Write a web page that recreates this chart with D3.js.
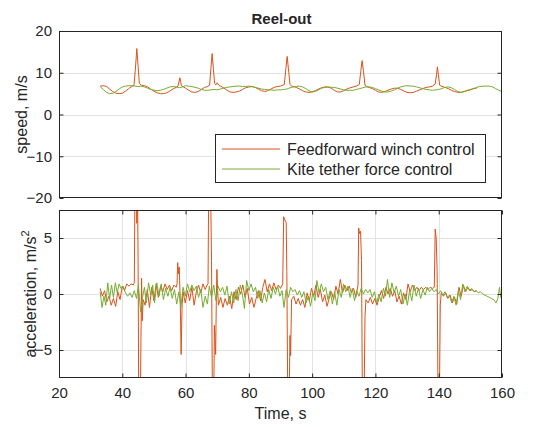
<!DOCTYPE html>
<html>
<head>
<meta charset="utf-8">
<script src="https://cdn.jsdelivr.net/npm/d3@7"></script>
<style>
  html, body { margin: 0; padding: 0; background: #fff; }
  svg { display: block; font-family: "Liberation Sans", Arial, Helvetica, sans-serif; }
</style>
</head>
<body>
<svg id="chart" width="538" height="427"></svg>
<script>
// ---- data: reel-out phase, two winch strategies ----
const seriesNames = ["Feedforward winch control", "Kite tether force control"];
const seriesColors = ["#D95319", "#77AC30"];

const timeTicks = [20, 40, 60, 80, 100, 120, 140, 160];
const speedTicks = [-20, -10, 0, 10, 20];
const accelTicks = [-5, 0, 5];

// speed [t (s), v (m/s)]
const speedFeedforward = [
  [33,6.8],[34,6.9],[35,6.7],[36,6.1],[37,5.5],[38,5.1],[39,5.0],[40,5.1],[41,5.6],[42,6.2],[43,6.7],[43.7,7.0],
  [44.1,10.5],[44.6,15.8],[45.0,11.5],[45.4,7.4],[46,7.0],[47,6.9],[48,6.6],[49,6.1],[50,5.6],[51,5.2],[52,5.0],
  [53,5.0],[54,5.2],[55,5.6],[56,6.1],[57,6.5],[57.6,6.8],[58.2,8.8],[58.7,6.9],[59.3,6.6],[60,6.3],[61,5.8],
  [62,5.4],[63,5.3],[64,5.5],[65,6.0],[66,6.5],[67,6.7],[67.6,7.0],[68.0,11.0],[68.4,14.6],[68.8,10.8],[69.2,7.4],
  [69.6,7.1],[70,7.6],[70.5,7.0],[71,6.8],[72,6.4],[73,5.9],[74,5.4],[75,5.3],[76,5.4],[77,5.6],[78,6.0],[79,6.4],
  [80,6.6],[81,6.7],[82,6.5],[83,6.1],[84,5.7],[85,5.5],[86,5.7],[87,6.1],[88,6.5],[89,6.7],[90,6.8],[91.2,7.2],
  [91.7,11.0],[92.1,13.9],[92.5,11.0],[93,7.2],[93.5,6.8],[94,6.7],[95,6.5],[96,6.1],[97,5.7],[98,5.4],[99,5.3],
  [100,5.4],[101,5.7],[102,6.1],[103,6.4],[104,6.6],[105,6.6],[106,6.3],[107,5.8],[108,5.4],[109,5.4],[110,5.7],
  [111,6.1],[112,6.4],[113,6.6],[114,6.8],[114.9,7.2],[115.4,10.5],[115.8,12.9],[116.2,10.5],[116.7,7.0],
  [117.3,6.7],[118,6.5],[119,6.2],[120,5.8],[121,5.4],[122,5.3],[123,5.5],[124,5.8],[125,6.1],[126,6.3],
  [127,6.3],[128,6.0],[129,5.6],[130,5.3],[131,5.2],[132,5.3],[133,5.6],[134,5.9],[135,6.2],[136,6.5],[137,6.6],
  [138,6.8],[138.9,7.3],[139.3,9.5],[139.6,11.4],[139.9,9.5],[140.3,7.0],[141,6.7],[142,6.5],[143,6.2],[144,5.8],
  [145,5.5],[146,5.3],[147,5.3],[148,5.5],[149,5.7],[150,5.9],[151,6.2],[152,6.3]
];
const speedKite = [
  [33,6.7],[34,6.0],[35,5.3],[36,5.0],[37,5.1],[38,5.5],[39,6.1],[40,6.6],[41,6.8],[42,6.9],[43,6.9],[44,6.8],
  [45,6.7],[46,6.8],[47,6.6],[48,6.3],[49,6.0],[50,5.8],[51,5.7],[52,5.8],[53,6.0],[54,6.3],[55,6.6],[56,6.7],
  [57,6.6],[58,6.4],[59,6.6],[60,6.9],[61,6.8],[62,6.7],[63,6.5],[64,6.3],[65,6.0],[66,5.8],[67,5.8],[68,5.9],
  [69,6.0],[70,5.9],[71,6.1],[72,6.3],[73,6.5],[74,6.6],[75,6.7],[76,6.8],[77,6.8],[78,6.7],[79,6.7],[80,6.8],
  [81,6.7],[82,6.5],[83,6.3],[84,6.1],[85,6.0],[86,5.9],[87,5.9],[88,5.8],[89,5.9],[90,5.9],[91,6.0],[92,6.1],
  [93,6.4],[94,6.6],[95,6.7],[96,6.8],[97,6.6],[98,6.2],[99,5.7],[100,5.4],[101,5.5],[102,5.9],[103,6.3],
  [104,6.5],[105,6.6],[106,6.5],[107,6.5],[108,6.3],[109,6.1],[110,5.9],[111,5.8],[112,5.8],[113,5.8],[114,6.0],
  [115,6.2],[116,6.4],[117,6.6],[118,6.6],[119,6.5],[120,6.2],[121,5.9],[122,5.6],[123,5.4],[124,5.4],[125,5.6],
  [126,5.9],[127,6.3],[128,6.6],[129,6.8],[130,6.9],[131,6.8],[132,6.8],[133,6.6],[134,6.4],[135,6.2],[136,6.0],
  [137,5.9],[138,5.8],[139,5.9],[140,6.0],[141,6.2],[142,6.5],[143,6.6],[144,6.4],[145,6.0],[146,5.5],[147,5.3],
  [148,5.5],[149,5.8],[150,6.0],[151,6.2],[152,6.5],[153,6.7],[154,6.8],[155,6.8],[156,6.8],[157,6.6],[158,6.2],
  [159,5.8],[160,5.5]
];

// acceleration [t (s), a (m/s^2)]
const accelFeedforward = [
  [33.0,0.5],[33.7,-0.2],[34.4,0.3],[35.1,-0.7],[35.8,-0.2],[36.5,-1.0],[37.2,-0.4],[37.9,-1.1],[38.6,0.2],
  [39.3,-0.5],[40.0,0.7],[40.7,0.3],[41.4,0.9],[42.1,0.7],[42.8,0.9],[43.5,0.8],[43.8,1.0],
  [44.0,9.5],[44.4,9.5],[44.6,6.3],[44.8,9.5],[45.0,3.0],[45.2,-10],[45.7,-10],[45.9,-4.0],[46.1,1.4],
  [46.3,-2.4],[46.6,-0.5],
  [47.2,-1.0],[47.9,0.4],[48.6,-1.2],[49.3,0.6],[50.0,-0.6],[50.7,0.9],[51.4,-0.3],[52.1,0.7],[52.8,0.2],
  [53.5,0.9],[54.2,0.4],[54.9,0.8],[55.6,0.3],[56.3,0.8],[57.0,0.6],[57.3,0.9],
  [57.5,2.8],[57.8,1.8],[58.0,2.4],[58.3,-0.5],[58.6,-5.4],[58.9,-1.0],[59.2,0.2],
  [59.9,-0.8],[60.6,0.3],[61.3,-0.6],[62.0,0.6],[62.7,-1.0],[63.4,0.2],[64.1,0.8],[64.8,0.1],[65.5,0.9],
  [66.2,0.4],[66.8,0.8],[67.1,0.9],
  [67.3,9.5],[67.9,9.5],[68.2,3.0],[68.5,-10],[68.9,-10],[69.1,-2.8],[69.3,-4.0],[69.5,-5.4],[69.7,-1.0],
  [69.9,2.2],[70.1,0.5],[70.4,-1.0],
  [71.1,-0.3],[71.8,-1.2],[72.5,-0.4],[73.2,-1.0],[73.9,-0.2],[74.6,-1.3],[75.3,0.2],[76.0,-0.5],[76.7,0.6],
  [77.4,0.0],[78.1,0.8],[78.8,-0.3],[79.5,0.5],[80.2,-0.9],[80.9,-0.3],[81.6,-1.2],[82.3,-0.4],[83.0,0.3],
  [83.7,-0.6],[84.4,0.6],[85.1,1.3],[85.8,0.2],[86.5,0.9],[87.2,0.3],[87.9,1.0],[88.6,0.4],[89.3,0.8],
  [90.0,0.5],[90.7,0.9],
  [91.0,6.9],[91.4,6.6],[91.8,6.4],[92.0,2.0],[92.3,-10],[92.7,-10],[93.0,-3.7],[93.2,-5.5],[93.5,-0.5],
  [94.2,-0.2],[94.9,-0.9],[95.6,-0.4],[96.3,-1.0],[97.0,-0.5],[97.7,-1.2],[98.4,0.1],[99.1,-0.6],[99.8,0.5],
  [100.5,-0.2],[101.2,0.8],[101.9,-0.3],[102.6,0.4],[103.3,-0.7],[104.0,-0.1],[104.7,-1.1],[105.4,-0.4],
  [106.1,0.2],[106.8,-0.5],[107.5,0.7],[108.2,0.0],[108.9,1.3],[109.6,0.1],[110.3,0.8],[111.0,0.3],[111.7,0.7],
  [112.4,0.1],[113.1,0.5],[113.8,-0.3],[114.5,0.8],
  [114.7,5.9],[115.0,5.4],[115.3,5.6],[115.6,3.0],[115.9,-10],[116.4,-10],[116.7,-2.0],[117.0,-0.5],
  [117.7,-0.8],[118.4,-0.3],[119.1,-0.9],[119.8,-0.4],[120.5,-1.0],[121.2,-0.3],[121.9,0.3],[122.6,-0.4],
  [123.3,0.6],[124.0,0.0],[124.7,0.5],[125.4,-0.2],[126.1,0.3],[126.8,-0.7],[127.5,-0.2],[128.2,-0.9],
  [128.9,0.1],[129.6,-0.5],[130.3,0.9],[131.0,0.2],[131.7,0.8],[132.4,0.3],[133.1,0.6],[133.8,0.3],[134.5,0.6],
  [135.2,0.4],[135.9,0.6],[136.6,0.4],[137.3,0.6],[138.0,0.5],[138.6,0.6],
  [138.9,5.8],[139.2,5.0],[139.5,2.0],[139.8,-10],[140.2,-10],[140.5,-1.0],[140.8,0.1],
  [141.5,-0.2],[142.2,0.1],[142.9,-0.4],[143.6,-0.1],[144.3,-0.8],[145.0,-0.3],[145.7,-0.9],[146.4,0.6],
  [147.1,-0.2],[147.8,0.8],[148.5,0.2],[149.2,0.6],[149.9,0.3],[150.6,0.4],[151.3,0.2],[152.0,0.3]
];
const accelKite = [
  [33.0,0.2],[33.6,-1.2],[34.2,-0.2],[34.8,-1.0],[35.4,1.0],[36.0,-0.4],[36.6,0.8],[37.2,-0.3],[37.8,1.0],
  [38.4,0.1],[39.0,0.9],[39.6,0.5],[40.3,0.7],[41.0,0.1],[41.7,-0.2],[42.4,0.1],[43.1,-0.3],[43.8,0.3],
  [44.5,-0.4],[45.1,0.8],[45.8,-1.6],[46.4,-0.3],[47.0,0.6],[47.6,-0.8],[48.3,1.0],[49.0,-0.1],[49.6,0.8],
  [50.2,-0.8],[50.9,1.0],[51.6,-0.2],[52.3,0.9],[53.0,-0.5],[53.7,0.5],[54.4,-0.2],[55.1,0.6],[55.8,-0.4],
  [56.5,0.4],[57.2,-0.9],[57.9,0.2],[58.5,-1.2],[59.2,0.6],[59.9,-0.2],[60.6,0.9],[61.3,0.2],[62.0,0.8],
  [62.7,0.3],[63.4,0.7],[64.1,-0.3],[64.8,0.4],[65.5,-1.2],[66.2,-0.2],[66.9,-0.9],[67.5,0.7],[68.2,-0.3],
  [68.9,0.8],[69.6,-0.6],[70.3,0.7],[71.0,0.2],[71.7,0.6],[72.4,-0.1],[73.1,0.7],[73.8,-0.9],[74.5,0.2],
  [75.2,-0.8],[75.9,0.4],[76.6,-0.6],[77.3,0.8],[78.0,-0.1],[78.6,-1.3],[79.3,1.2],[80.0,0.3],[80.7,0.9],
  [81.4,0.2],[82.1,0.6],[82.8,-0.4],[83.5,0.3],[84.2,-0.8],[84.9,0.1],[85.6,-0.7],[86.3,0.4],[87.0,-0.4],
  [87.7,0.6],[88.4,0.0],[89.1,0.7],[89.8,-0.2],[90.5,0.3],[91.1,-1.2],[91.8,0.4],[92.5,-0.3],[93.2,0.6],
  [93.9,0.2],[94.6,0.4],[95.3,-0.1],[96.0,0.3],[96.7,-0.3],[97.4,0.2],[98.1,-0.8],[98.8,-0.2],[99.5,-1.1],
  [100.2,0.1],[100.9,-0.6],[101.5,1.2],[102.2,0.1],[102.9,0.9],[103.6,0.2],[104.3,0.6],[105.0,-0.5],[105.7,0.3],
  [106.4,-0.9],[107.1,0.2],[107.8,-1.0],[108.5,0.4],[109.2,-0.3],[109.9,0.9],[110.6,0.2],[111.3,0.7],
  [112.0,-0.3],[112.7,0.5],[113.4,-0.6],[114.1,0.3],[114.8,-0.2],[115.5,0.5],[116.2,0.0],[116.9,0.4],
  [117.6,0.1],[118.3,0.4],[119.0,-0.3],[119.7,0.2],[120.4,-0.8],[121.1,0.0],[121.8,-0.7],[122.5,0.5],
  [123.2,-0.2],[123.8,1.3],[124.5,-0.3],[125.2,1.0],[125.9,0.1],[126.6,0.7],[127.3,-0.2],[128.0,0.4],
  [128.7,-0.9],[129.4,0.0],[130.1,-1.0],[130.8,0.3],[131.5,-0.6],[132.2,0.8],[132.9,-0.2],[133.6,0.5],
  [134.3,-0.4],[135.0,0.4],[135.7,-0.1],[136.4,0.6],[137.1,0.2],[137.8,0.5],[138.5,0.2],[139.2,0.4],
  [139.9,0.0],[140.6,0.3],[141.3,-0.1],[142.0,0.2],[142.7,-0.3],[143.4,-0.1],[144.1,-0.8],[144.8,-0.2],
  [145.5,-1.0],[146.2,0.3],[146.9,-0.5],[147.6,0.9],[148.3,0.2],[149.0,0.7],[149.7,0.3],[150.4,0.5],
  [151.1,0.2],[151.8,0.3],[152.5,0.1],[153.2,0.2],[153.9,0.0],[154.6,-0.1],[155.3,-0.2],[156.0,-0.3],
  [156.7,-0.4],[157.4,-0.5],[158.1,-0.8],[158.7,-0.4],[159.2,0.6],[159.6,-0.3],[160.0,-0.5]
];

// ---- layout ----
const svg = d3.select("#chart");
const left = 59, right = 502;
const topPanel = { y0: 31, y1: 198 };
const botPanel = { y0: 210, y1: 378 };
const ink = "#262626";
const gridColor = "#e3e3e3";
const tickLen = 4;
const tickFont = "15px";
const labelFont = "16px";

const x = d3.scaleLinear().domain([20, 160]).range([left, right]);
const ySpeed = d3.scaleLinear().domain([-20, 20]).range([topPanel.y1, topPanel.y0]);
const yAccel = d3.scaleLinear().domain([-7.5, 7.5]).range([botPanel.y1, botPanel.y0]);

const defs = svg.append("defs");
defs.append("clipPath").attr("id", "clipTop")
  .append("rect").attr("x", left).attr("y", topPanel.y0).attr("width", right - left).attr("height", topPanel.y1 - topPanel.y0);
defs.append("clipPath").attr("id", "clipBot")
  .append("rect").attr("x", left).attr("y", botPanel.y0).attr("width", right - left).attr("height", botPanel.y1 - botPanel.y0);

function grid(y, ticks, panelBox, withX) {
  const g = svg.append("g");
  g.append("g").selectAll("line").data(ticks.filter(v => y(v) > panelBox.y0 + 1 && y(v) < panelBox.y1 - 1))
    .join("line")
    .attr("x1", left).attr("x2", right)
    .attr("y1", d => Math.round(y(d)) + 0.5).attr("y2", d => Math.round(y(d)) + 0.5)
    .attr("stroke", gridColor).attr("stroke-width", 1);
  if (withX) {
    g.append("g").selectAll("line").data(timeTicks.filter(v => x(v) > left + 1 && x(v) < right - 1))
      .join("line")
      .attr("x1", d => Math.round(x(d)) + 0.5).attr("x2", d => Math.round(x(d)) + 0.5)
      .attr("y1", panelBox.y0).attr("y2", panelBox.y1)
      .attr("stroke", gridColor).attr("stroke-width", 1);
  }
}

function frame(y, ticks, panelBox, withX) {
  const g = svg.append("g");
  // inward tick marks on every side of the box
  g.append("g").attr("transform", `translate(${left + 0.5},0)`)
    .call(d3.axisRight(y).tickValues(ticks).tickSize(tickLen).tickFormat(""));
  g.append("g").attr("transform", `translate(${right - 0.5},0)`)
    .call(d3.axisLeft(y).tickValues(ticks).tickSize(tickLen).tickFormat(""));
  if (withX) {
    g.append("g").attr("transform", `translate(0,${panelBox.y1 - 0.5})`)
      .call(d3.axisTop(x).tickValues(timeTicks).tickSize(tickLen).tickFormat(""));
    g.append("g").attr("transform", `translate(0,${panelBox.y0 + 0.5})`)
      .call(d3.axisBottom(x).tickValues(timeTicks).tickSize(tickLen).tickFormat(""));
  }
  g.selectAll(".domain").remove();
  g.selectAll(".tick line").attr("stroke", ink).attr("stroke-width", 1);
  g.append("rect")
    .attr("x", left + 0.5).attr("y", panelBox.y0 + 0.5)
    .attr("width", right - left - 1).attr("height", panelBox.y1 - panelBox.y0 - 1)
    .attr("fill", "none").attr("stroke", ink).attr("stroke-width", 1);
  // y tick labels
  const lg = g.append("g").attr("transform", `translate(${left},0)`)
    .call(d3.axisLeft(y).tickValues(ticks).tickSize(0).tickPadding(7).tickFormat(d3.format("d")));
  lg.select(".domain").remove();
  lg.selectAll("text").attr("fill", ink).style("font-size", tickFont)
    .style("font-family", "Liberation Sans, Arial, sans-serif");
}

// ---- speed panel ----
grid(ySpeed, speedTicks, topPanel, false);
const lineSpeed = d3.line().x(d => x(d[0])).y(d => ySpeed(d[1]));
const sTop = svg.append("g").attr("clip-path", "url(#clipTop)");
[speedFeedforward, speedKite].forEach((s, i) => {
  sTop.append("path").datum(s).attr("d", lineSpeed)
    .attr("fill", "none").attr("stroke", seriesColors[i]).attr("stroke-width", 1)
    .attr("stroke-linejoin", "round");
});
frame(ySpeed, speedTicks, topPanel, false);

// ---- acceleration panel ----
grid(yAccel, accelTicks, botPanel, true);
const lineAccel = d3.line().x(d => x(d[0])).y(d => yAccel(d[1]));
const sBot = svg.append("g").attr("clip-path", "url(#clipBot)");
[accelFeedforward, accelKite].forEach((s, i) => {
  sBot.append("path").datum(s).attr("d", lineAccel)
    .attr("fill", "none").attr("stroke", seriesColors[i]).attr("stroke-width", 1)
    .attr("stroke-linejoin", "round");
});
frame(yAccel, accelTicks, botPanel, true);

// x tick labels under the lower panel
const xLab = svg.append("g").attr("transform", `translate(0,${botPanel.y1})`)
  .call(d3.axisBottom(x).tickValues(timeTicks).tickSize(0).tickPadding(9).tickFormat(d3.format("d")));
xLab.select(".domain").remove();
xLab.selectAll("text").attr("fill", ink).style("font-size", tickFont)
  .style("font-family", "Liberation Sans, Arial, sans-serif");

// ---- titles and labels ----
svg.append("text").attr("x", (left + right) / 2 + 1).attr("y", 24)
  .attr("text-anchor", "middle").attr("fill", ink)
  .style("font-size", "15px").style("font-weight", "bold").text("Reel-out");

svg.append("text").attr("x", (left + right) / 2).attr("y", 419)
  .attr("text-anchor", "middle").attr("fill", ink)
  .style("font-size", labelFont).text("Time, s");

svg.append("text")
  .attr("transform", `translate(27,${(topPanel.y0 + topPanel.y1) / 2}) rotate(-90)`)
  .attr("text-anchor", "middle").attr("fill", ink)
  .style("font-size", labelFont).text("speed, m/s");

const accLabel = svg.append("text")
  .attr("transform", `translate(36,${(botPanel.y0 + botPanel.y1) / 2}) rotate(-90)`)
  .attr("text-anchor", "middle").attr("fill", ink)
  .style("font-size", labelFont);
accLabel.append("tspan").text("acceleration, m/s");
accLabel.append("tspan").attr("dy", -7).style("font-size", "11px").text("2");

// ---- legend ----
const leg = svg.append("g");
leg.append("rect").attr("x", 215.5).attr("y", 134.5).attr("width", 270).attr("height", 48)
  .attr("fill", "#fff").attr("stroke", ink).attr("stroke-width", 1);
seriesNames.forEach((name, i) => {
  const yy = 149 + i * 20;
  leg.append("line").attr("x1", 222).attr("x2", 280).attr("y1", yy).attr("y2", yy)
    .attr("stroke", seriesColors[i]).attr("stroke-width", 1);
  leg.append("text").attr("x", 287).attr("y", yy + 5.5).attr("fill", ink)
    .style("font-size", labelFont).text(name);
});
</script>
</body>
</html>
